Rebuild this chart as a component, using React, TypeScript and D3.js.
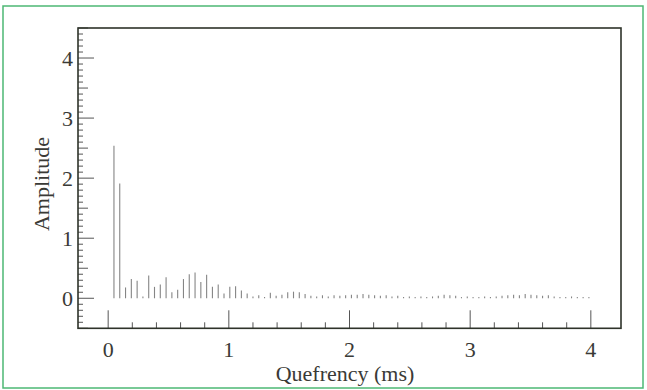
import React from "react";
import * as d3 from "d3";

// cepstrum amplitudes, one per sample (first sample at one period)
const samplePeriodMs = 0.048;
const amplitude = [
  2.54, 1.91, 0.18, 0.32, 0.29, 0.03, 0.38, 0.19, 0.23, 0.35,
  0.1, 0.14, 0.32, 0.4, 0.43, 0.27, 0.39, 0.19, 0.23, 0.08,
  0.19, 0.2, 0.13, 0.08, 0.03, 0.05, 0.02, 0.09, 0.04, 0.06,
  0.1, 0.11, 0.1, 0.07, 0.04, 0.03, 0.05, 0.03, 0.05, 0.04,
  0.05, 0.06, 0.06, 0.07, 0.06, 0.05, 0.04, 0.05, 0.03, 0.04,
  0.02, 0.03, 0.02, 0.03, 0.02, 0.03, 0.04, 0.06, 0.05, 0.04,
  0.02, 0.03, 0.02, 0.02, 0.03, 0.02, 0.03, 0.04, 0.05, 0.06,
  0.05, 0.07, 0.06, 0.05, 0.04, 0.05, 0.03, 0.02, 0.02, 0.03,
  0.02, 0.02, 0.02,
];
const xTickLabels = [0, 1, 2, 3, 4];
const yTickLabels = [0, 1, 2, 3, 4];

const W = 647;
const H = 390;
const left = 78;
const right = 621;
const top = 28;
const bottom = 328.3;

const x = d3.scaleLinear().domain([-0.25, 4.25]).range([left, right]);
const y = d3.scaleLinear().domain([-0.5, 4.5]).range([bottom, top]);

const font = "'Liberation Serif', 'Times New Roman', serif";
const textColor = "#3a3a36";

export default function App() {
  const xMinor = d3.range(0, 4.01, 0.2).filter((v) => Math.abs(v - Math.round(v)) > 1e-6);
  const yMinor = d3.range(-0.4, 4.41, 0.1).filter((v) => Math.abs(v * 2 - Math.round(v * 2)) > 1e-6);
  const yHalf = d3.range(-0.5, 4.6, 1);

  return (
    <svg
      width={W}
      height={H}
      style={{ position: "absolute", left: 0, top: 0, background: "#fff" }}
    >
      <rect x={3} y={6} width={640} height={382} fill="#fff" stroke="#4db874" strokeWidth={1.5} />

      {/* stems */}
      <g stroke="#858585" strokeWidth={1.1}>
        {amplitude.map((a, i) => {
          const q = (i + 1) * samplePeriodMs;
          return <line key={i} x1={x(q)} x2={x(q)} y1={y(0)} y2={y(a)} />;
        })}
      </g>

      {/* ticks */}
      <g stroke="#555" strokeWidth={1}>
        {xTickLabels.map((t) => (
          <line key={"xm" + t} x1={x(t)} x2={x(t)} y1={bottom} y2={bottom - 18} />
        ))}
        {xMinor.map((t) => (
          <line key={"xn" + t} x1={x(t)} x2={x(t)} y1={bottom} y2={bottom - 6} />
        ))}
        {yTickLabels.map((t) => (
          <line key={"ym" + t} x1={left} x2={left + 16} y1={y(t)} y2={y(t)} />
        ))}
        {yHalf.map((t) => (
          <line key={"yh" + t} x1={left} x2={left + 10} y1={y(t)} y2={y(t)} />
        ))}
        {yMinor.map((t) => (
          <line key={"yn" + t} x1={left} x2={left + 5} y1={y(t)} y2={y(t)} />
        ))}
      </g>

      <rect
        x={left}
        y={top}
        width={right - left}
        height={bottom - top}
        fill="none"
        stroke="#2e332a"
        strokeWidth={1.6}
      />

      <g fontFamily={font} fontSize={22} fill={textColor}>
        {xTickLabels.map((t) => (
          <text key={"xl" + t} x={x(t)} y={357} textAnchor="middle">
            {t}
          </text>
        ))}
        {yTickLabels.map((t) => (
          <text key={"yl" + t} x={73} y={y(t)} dy="0.35em" textAnchor="end">
            {t}
          </text>
        ))}
        <text x={345} y={381} textAnchor="middle">
          Quefrency (ms)
        </text>
        <text transform="translate(49,184) rotate(-90)" textAnchor="middle">
          Amplitude
        </text>
      </g>
    </svg>
  );
}
